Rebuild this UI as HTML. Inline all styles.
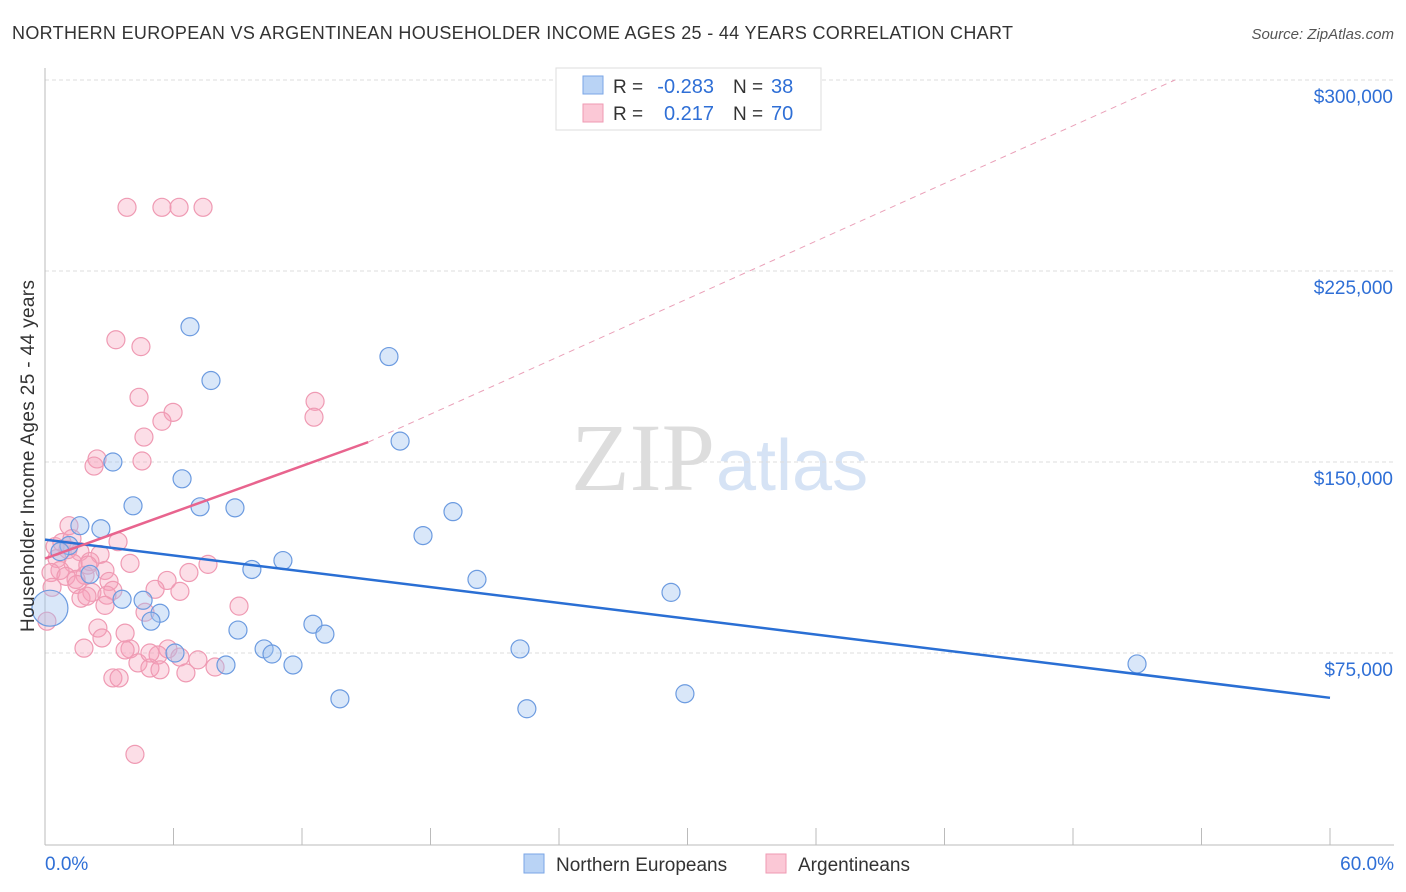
<!DOCTYPE html>
<html><head><meta charset="utf-8"><style>
body{margin:0;background:#fff;font-family:"Liberation Sans",sans-serif;}
svg{display:block}
</style></head><body>
<svg width="1406" height="892" xmlns="http://www.w3.org/2000/svg">
<text x="12" y="39" font-size="18" fill="#333" textLength="1001">NORTHERN EUROPEAN VS ARGENTINEAN HOUSEHOLDER INCOME AGES 25 - 44 YEARS CORRELATION CHART</text>
<text x="1394" y="39" font-size="15" fill="#555" font-style="italic" text-anchor="end">Source: ZipAtlas.com</text>
<text x="715" y="490" font-size="96" fill="#ddd" font-family="Liberation Serif" text-anchor="end">ZIP</text>
<text x="716" y="490" font-size="72" fill="#d6e3f5">atlas</text>
<g id="grid"></g>
<g id="axes"></g>
<g id="pts"></g>
<g id="lines"></g>
<text transform="translate(34,456) rotate(-90)" font-size="19" fill="#333" text-anchor="middle" textLength="352">Householder Income Ages 25 - 44 years</text>
<g>
<rect x="556" y="68" width="265" height="62" fill="#fff" stroke="#ddd"/>
<rect x="583" y="76" width="20" height="18" fill="#b9d3f5" stroke="#7aa6e6"/>
<rect x="583" y="104" width="20" height="18" fill="#fbc8d6" stroke="#ef9ab3"/>
<text x="613" y="93" font-size="19" fill="#333">R =</text>
<text x="714" y="93" font-size="20" fill="#2f6fd6" text-anchor="end">-0.283</text>
<text x="733" y="93" font-size="19" fill="#333">N =</text>
<text x="771" y="93" font-size="20" fill="#2f6fd6">38</text>
<text x="613" y="120" font-size="19" fill="#333">R =</text>
<text x="714" y="120" font-size="20" fill="#2f6fd6" text-anchor="end">0.217</text>
<text x="733" y="120" font-size="19" fill="#333">N =</text>
<text x="771" y="120" font-size="20" fill="#2f6fd6">70</text>
</g>
<g>
<rect x="524" y="854" width="20" height="19" fill="#b9d3f5" stroke="#7aa6e6"/>
<text x="556" y="871" font-size="19" fill="#333">Northern Europeans</text>
<rect x="766" y="854" width="20" height="19" fill="#fbc8d6" stroke="#ef9ab3"/>
<text x="798" y="871" font-size="19" fill="#333">Argentineans</text>
</g>
</svg>
<script>
const yTicks=[75,150,225,300];
const yTickLabels=["$75,000","$150,000","$225,000","$300,000"];
const xTicks=[0,6,12,18,24,30,36,42,48,54,60];
const blueX=[6.77,7.75,16.06,16.58,3.17,6.40,4.11,7.24,8.87,19.05,1.63,2.61,17.65,1.12,0.70,11.11,9.66,2.10,20.17,29.23,3.60,4.58,5.37,0.23,4.95,12.51,13.07,9.01,22.18,10.23,10.60,6.07,8.45,11.58,50.99,29.88,13.77,22.50];
const blueY=[203.1,182.0,191.4,158.2,150.0,143.4,132.8,132.4,132.0,130.5,125.0,123.8,121.1,117.2,114.8,111.3,107.8,105.9,103.9,98.8,96.1,95.7,90.6,92.6,87.5,86.3,82.4,84.0,76.6,76.6,74.6,75.0,70.3,70.3,70.7,59.0,57.0,53.1];
const pinkX=[3.83,5.46,6.26,7.38,3.31,4.48,4.39,12.61,5.98,5.46,12.56,4.62,2.43,4.53,2.29,1.12,3.41,0.47,1.07,1.63,2.57,0.56,3.97,1.31,2.10,0.70,0.28,1.87,0.98,2.80,1.45,2.99,6.72,7.61,5.70,0.33,1.49,3.17,5.14,6.30,2.19,2.89,1.68,1.96,2.80,9.06,0.09,4.67,2.47,3.74,2.66,1.82,5.74,3.97,3.74,6.30,5.28,4.34,4.90,7.14,7.94,5.37,6.58,3.17,3.46,4.20,0.79,1.26,4.90,2.0];
const pinkY=[250,250,250,250,198.0,195.3,175.4,173.8,169.5,166.0,167.6,159.8,151.2,150.4,148.4,125.0,118.7,116.8,115.6,114.8,113.7,112.1,110.2,110.2,110.9,107.4,106.6,105.5,105.1,107.4,103.9,103.1,106.6,109.8,103.5,100.8,101.9,99.6,100.0,99.2,98.8,97.7,96.5,97.3,93.7,93.4,87.5,91.0,84.8,82.8,80.9,76.9,76.6,76.6,76.2,73.4,74.2,71.1,69.1,72.3,69.5,68.4,67.2,65.2,65.2,35.2,118.4,119.9,75.0,109.5];
const blueTrend=[[0,119.5],[60,57.4]];
const pinkTrend=[[0,112.1],[15.09,157.8]];
const pinkDash=[[15.09,157.8],[52.76,300]];
const X=v=>45+v/60*1285, Y=v=>844-v/300*764;
const NS="http://www.w3.org/2000/svg";
function mk(tag,attrs,parent){const e=document.createElementNS(NS,tag);for(const k in attrs)e.setAttribute(k,attrs[k]);document.getElementById(parent).appendChild(e);return e;}
yTicks.forEach((t,i)=>{
 const g=mk('line',{x1:45,x2:1394,y1:Y(t),y2:Y(t),stroke:'#ddd','stroke-dasharray':'4,3'},'grid');
 
 
 const l=mk('text',{x:1393,y:Y(t)+23,'font-size':19,fill:'#2f6fd6','text-anchor':'end'},'axes');
 l.textContent=yTickLabels[i];
 
 
});
const ax=mk('line',{x1:45,x2:45,y1:68,y2:845,stroke:'#bbb'},'axes');


const bx=mk('line',{x1:45,x2:1394,y1:845,y2:845,stroke:'#bbb'},'axes');


xTicks.forEach(t=>{
 const k=mk('line',{x1:X(t),x2:X(t),y1:828,y2:845,stroke:'#bbb'},'axes');
 
 
});
const x0=mk('text',{x:45,y:870,'font-size':19,fill:'#2f6fd6'},'axes');x0.textContent='0.0%';


const x1=mk('text',{x:1394,y:870,'font-size':19,fill:'#2f6fd6','text-anchor':'end'},'axes');x1.textContent='60.0%';


pinkX.forEach((x,i)=>{
 const c=mk('circle',{cx:X(x),cy:Y(pinkY[i]),r:9,fill:'rgba(246,160,186,0.35)',stroke:'#ef9ab3','stroke-width':1.2},'pts');
 
 
});
blueX.forEach((x,i)=>{
 const c=mk('circle',{cx:X(x),cy:Y(blueY[i]),r:(i==23?18:9),fill:'rgba(160,195,240,0.4)',stroke:'#6c9be0','stroke-width':1.2},'pts');
 
 
});
const bl=mk('line',{x1:X(blueTrend[0][0]),y1:Y(blueTrend[0][1]),x2:X(blueTrend[1][0]),y2:Y(blueTrend[1][1]),stroke:'#2a6fd4','stroke-width':2.5},'lines');


const pl=mk('line',{x1:X(pinkTrend[0][0]),y1:Y(pinkTrend[0][1]),x2:X(pinkTrend[1][0]),y2:Y(pinkTrend[1][1]),stroke:'#e8648e','stroke-width':2.5},'lines');


const pd=mk('line',{x1:X(pinkDash[0][0]),y1:Y(pinkDash[0][1]),x2:X(pinkDash[1][0]),y2:Y(pinkDash[1][1]),stroke:'#eaa0b8','stroke-width':1,'stroke-dasharray':'6,5'},'lines');


</script>
</body></html>
